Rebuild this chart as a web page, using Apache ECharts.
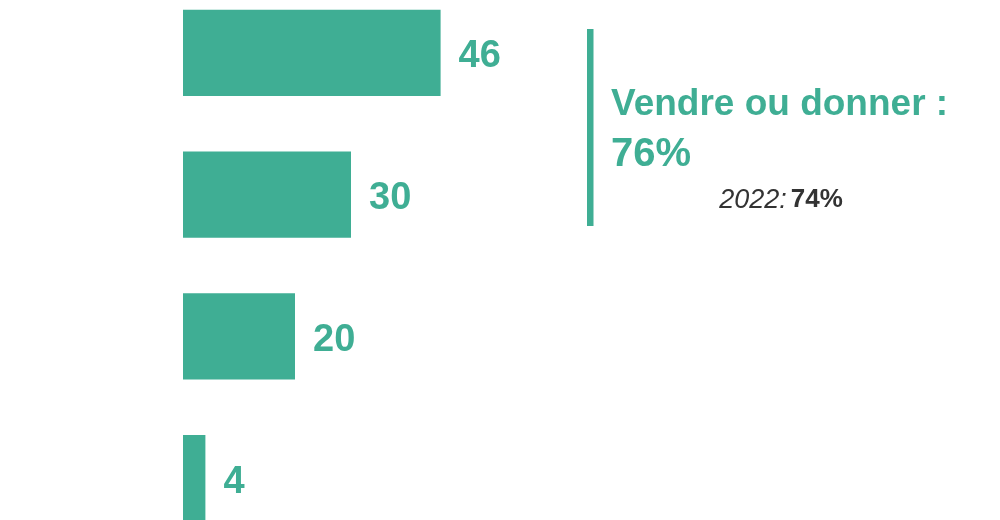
<!DOCTYPE html>
<html>
<head>
<meta charset="utf-8">
<title>Vendre ou donner</title>
<script src="https://cdn.jsdelivr.net/npm/echarts@6/dist/echarts.min.js"></script>
<style>
  html, body { margin: 0; padding: 0; background: #ffffff; }
  #chart { width: 1000px; height: 520px; }
</style>
</head>
<body>
<div id="chart"></div>
<script>
// Share of answers per option (%), top to bottom
const categories = ['1', '2', '3', '4'];
const values = [46, 30, 20, 4];

// Summary block on the right
const summaryTitle = 'Vendre ou donner :';
const summaryValue = 76;
const previousYear = '2022';
const previousValue = 74;

const TEAL = '#3fae94';
const FONT = '"Liberation Sans", Arial, Helvetica, sans-serif';

const chart = echarts.init(document.getElementById('chart'), null, { renderer: 'canvas' });

chart.setOption({
  animation: false,
  backgroundColor: '#ffffff',
  grid: {
    left: 183,
    width: 560,
    top: -18,
    bottom: -29,
    outerBoundsMode: 'none'
  },
  xAxis: {
    type: 'value',
    min: 0,
    max: 100,
    show: false
  },
  yAxis: {
    type: 'category',
    data: categories,
    inverse: true,
    show: false
  },
  series: [{
    type: 'bar',
    data: values,
    barCategoryGap: '39%',
    itemStyle: { color: TEAL },
    label: {
      show: true,
      position: 'right',
      distance: 18,
      offset: [0, 4],
      color: TEAL,
      fontFamily: FONT,
      fontWeight: 'bold',
      fontSize: 38
    }
  }],
  graphic: [
    {
      type: 'rect',
      shape: { x: 587, y: 29, width: 6.5, height: 197 },
      style: { fill: TEAL }
    },
    {
      type: 'text',
      x: 611,
      y: 105,
      style: {
        text: summaryTitle,
        fill: TEAL,
        font: 'bold 37px ' + FONT,
        align: 'left',
        verticalAlign: 'middle'
      }
    },
    {
      type: 'text',
      x: 611,
      y: 155,
      style: {
        text: summaryValue + '%',
        fill: TEAL,
        font: 'bold 40px ' + FONT,
        align: 'left',
        verticalAlign: 'middle'
      }
    },
    {
      type: 'text',
      x: 781,
      y: 200,
      style: {
        text: '{i|' + previousYear + ':}{b|' + previousValue + '%}',
        align: 'center',
        verticalAlign: 'middle',
        rich: {
          i: { fontFamily: FONT, fontStyle: 'italic', fontSize: 27, fill: '#333333', color: '#333333' },
          b: { fontFamily: FONT, fontWeight: 'bold', fontSize: 26, fill: '#333333', color: '#333333', padding: [0, 0, 0, 4] }
        }
      }
    }
  ]
});
</script>
</body>
</html>
